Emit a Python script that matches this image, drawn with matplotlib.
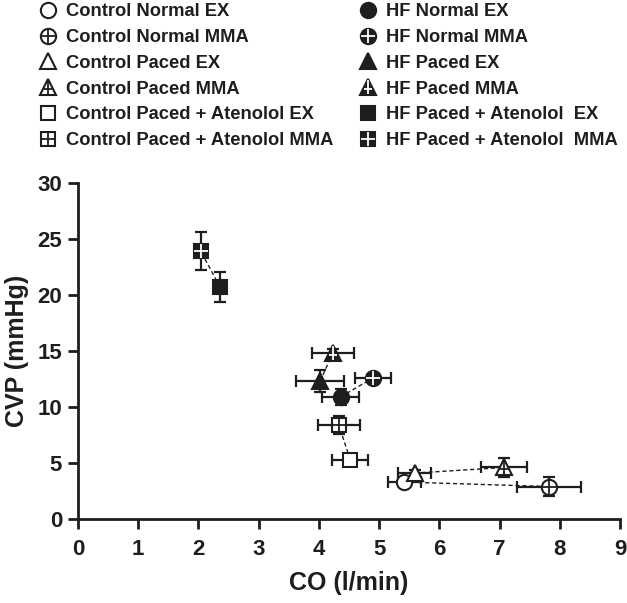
import numpy as np
import matplotlib
matplotlib.use("Agg")
import matplotlib.pyplot as plt
from matplotlib.path import Path

plt.rcParams['font.family'] = ['Liberation Sans', 'DejaVu Sans']
plt.rcParams['font.weight'] = 'bold'

# Data (CO in l/min, CVP in mmHg), EX / MMA pairs per condition
labels = ["Control Normal EX", "Control Normal MMA",
          "Control Paced EX", "Control Paced MMA",
          "Control Paced + Atenolol EX", "Control Paced + Atenolol MMA",
          "HF Normal EX", "HF Normal MMA",
          "HF Paced EX", "HF Paced MMA",
          "HF Paced + Atenolol  EX", "HF Paced + Atenolol  MMA"]
co = [5.42, 7.82, 5.59, 7.08, 4.52, 4.33, 4.36, 4.90, 4.02, 4.23, 2.36, 2.04]
co_err = [0.28, 0.53, 0.28, 0.38, 0.30, 0.35, 0.30, 0.30, 0.40, 0.35, 0.08, 0.08]
cvp = [3.3, 2.9, 4.1, 4.6, 5.3, 8.4, 10.9, 12.6, 12.3, 14.8, 20.7, 23.9]
cvp_err = [0.3, 0.85, 0.3, 0.85, 0.3, 0.8, 0.7, 0.3, 1.0, 0.4, 1.35, 1.7]

# marker shapes: base + whether a cross is drawn inside
shapes = ['o', 'o', '^', '^', 's', 's'] * 2
crossed = [False, True] * 6
filled = [False] * 6 + [True] * 6
sizes = {'o': 11, '^': 11.5, 's': 10.5}

cross_plain = Path([(-1, 0), (1, 0), (0, -1), (0, 1)],
                   [Path.MOVETO, Path.LINETO, Path.MOVETO, Path.LINETO])
cross_tri = Path([(-0.55, -0.25), (0.55, -0.25), (0, -1), (0, 1)],
                 [Path.MOVETO, Path.LINETO, Path.MOVETO, Path.LINETO])

ink = '#1e1e1e'

fig = plt.figure(figsize=(6.27, 6.03), dpi=100)
ax = fig.add_axes([0.1244, 0.1393, 0.8644, 0.5572])

# dashed lines joining EX and MMA of each condition
for i in range(0, 12, 2):
    ax.plot(co[i:i + 2], cvp[i:i + 2], color=ink, lw=1.0,
            linestyle=(0, (3, 2)), zorder=1)

handles = []
for i in range(12):
    ax.errorbar(co[i], cvp[i], xerr=co_err[i], yerr=cvp_err[i], fmt='none',
                ecolor=ink, elinewidth=1.6, capsize=4, capthick=1.6,
                zorder=2)
    face = ink if filled[i] else 'white'
    ms = sizes[shapes[i]]
    base, = ax.plot(co[i], cvp[i], marker=shapes[i], ms=ms, mfc=face,
                    mec=ink, mew=1.5, linestyle='none', zorder=3)
    h = base
    if crossed[i]:
        cpath = cross_tri if shapes[i] == '^' else cross_plain
        ccol = 'white' if filled[i] else ink
        cr, = ax.plot(co[i], cvp[i], marker=cpath, ms=ms - 1, mfc='none',
                      mec=ccol, mew=1.3, linestyle='none', zorder=4)
        h = (base, cr)
    handles.append(h)

ax.set_xlim(0, 9)
ax.set_ylim(0, 30)
ax.set_xticks(range(0, 10))
ax.set_yticks(range(0, 31, 5))
for s in ['top', 'right']:
    ax.spines[s].set_visible(False)
for s in ['left', 'bottom']:
    ax.spines[s].set_linewidth(2)
    ax.spines[s].set_color(ink)
ax.tick_params(width=2, length=7.5, labelsize=16, colors=ink,
               labelcolor=ink)
ax.tick_params(axis='x', pad=7)
ax.tick_params(axis='y', pad=4)
ax.set_xlabel("CO (l/min)", fontsize=18, fontweight='bold', color=ink,
              labelpad=8)
ax.set_ylabel("CVP (mmHg)", fontsize=18, fontweight='bold', color=ink,
              labelpad=6)

leg_kw = dict(frameon=False, fontsize=13.2, handlelength=1.0,
              handletextpad=0.45, labelspacing=0.48, borderpad=0,
              labelcolor=ink)
fig.legend(handles[:6], labels[:6], loc='upper left',
           bbox_to_anchor=(0.048, 1.01), **leg_kw)
fig.legend(handles[6:], labels[6:], loc='upper left',
           bbox_to_anchor=(0.558, 1.01), **leg_kw)

fig.savefig("out.png", dpi=100)
